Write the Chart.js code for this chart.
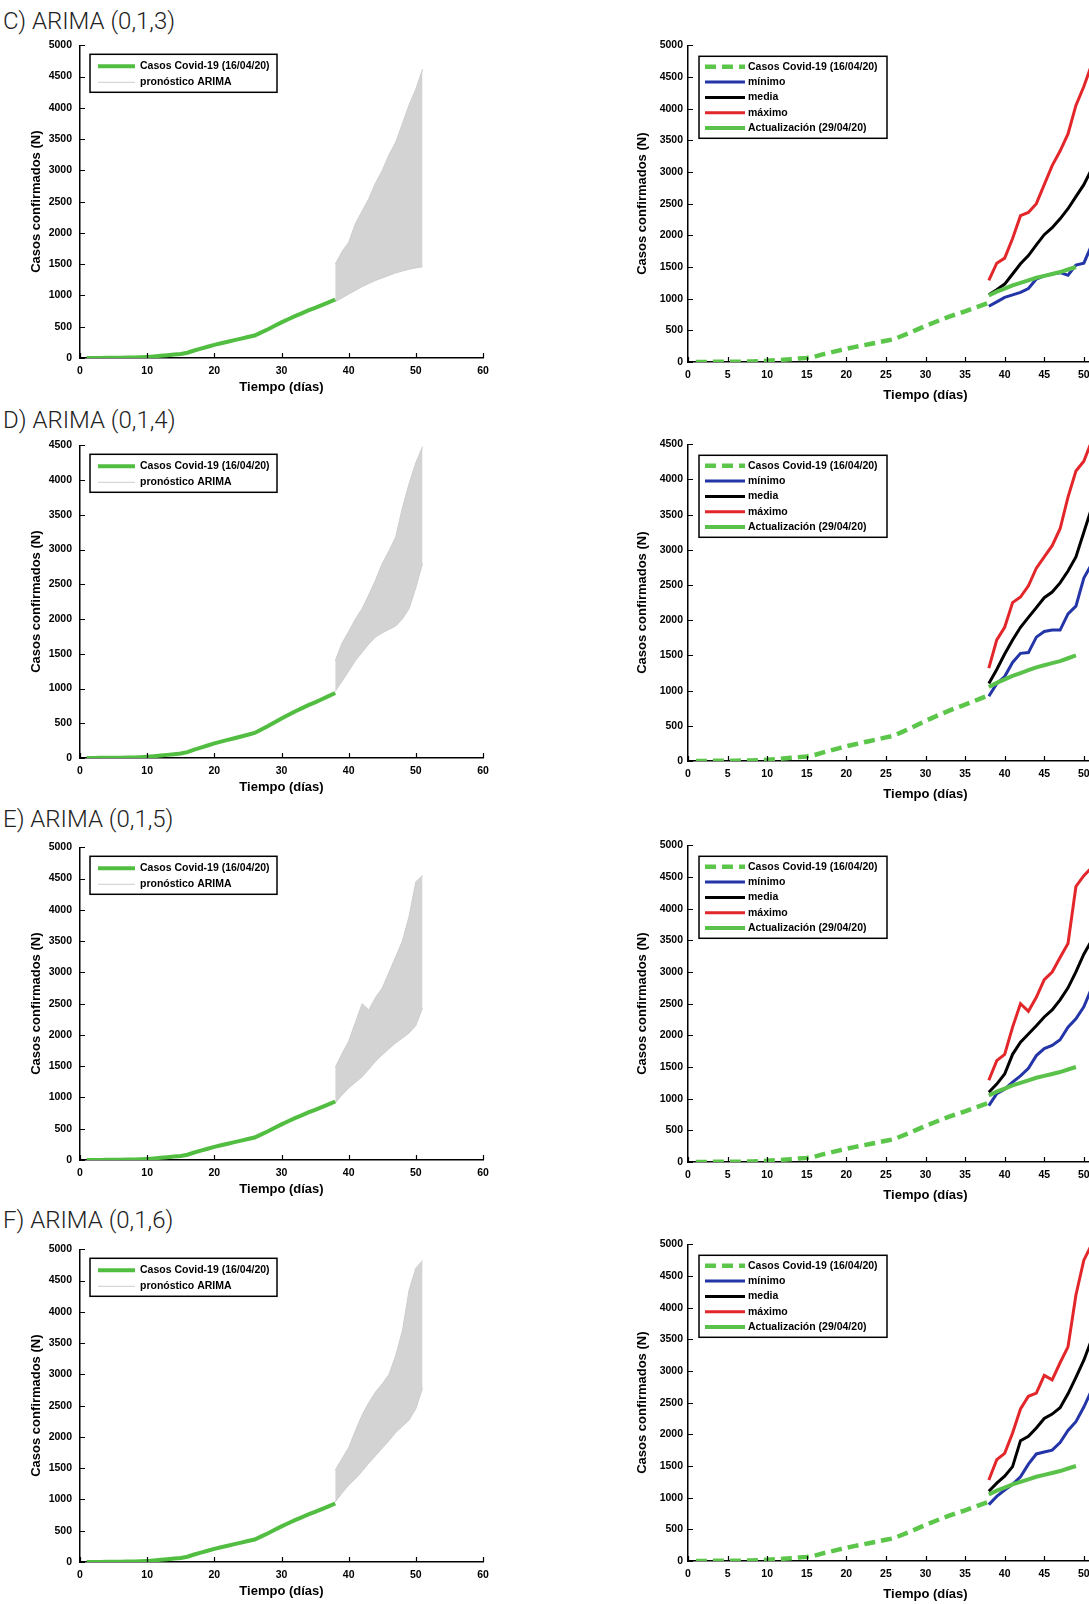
<!DOCTYPE html>
<html>
<head>
<meta charset="utf-8">
<script src="https://cdn.jsdelivr.net/npm/chart.js@4.4.1/dist/chart.umd.min.js"></script>
<style>
html, body { margin: 0; padding: 0; background: #fff; }
body { width: 1089px; height: 1604px; overflow: hidden; position: relative; }
.titulo { position: absolute; left: 3px; font-family: Roboto, "Open Sans", sans-serif; font-weight: 300;
          font-size: 24px; line-height: 26px; color: #222; white-space: nowrap; }
canvas { position: absolute; }
</style>
</head>
<body>
<script>
// ---- datos ----
var titulos = ['C) ARIMA (0,1,3)', 'D) ARIMA (0,1,4)', 'E) ARIMA (0,1,5)', 'F) ARIMA (0,1,6)'];
var yMaximos = [5000, 4500, 5000, 5000];

var diasCasos = [1, 2, 3, 4, 5, 6, 7, 8, 9, 10, 11, 12, 13, 14, 15, 16, 17, 18, 19, 20,
                 21, 22, 23, 24, 25, 26, 27, 28, 29, 30, 31, 32, 33, 34, 35, 36, 37, 38];
var casos = [1, 1, 2, 3, 4, 5, 6, 8, 12, 18, 26, 35, 45, 55, 65, 85, 120, 150, 180, 210,
             235, 260, 285, 310, 335, 360, 410, 460, 515, 570, 620, 670, 715, 760, 800, 845, 890, 935];

var diasActualizacion = [38, 39, 40, 41, 42, 43, 44, 45, 46, 47, 48, 49];
var actualizacion = [1050, 1110, 1160, 1210, 1250, 1290, 1330, 1360, 1390, 1420, 1460, 1500];

var diasPronostico = [38, 39, 40, 41, 42, 43, 44, 45, 46, 47, 48, 49, 50, 51];

// envolvente del abanico de pronosticos ARIMA (paneles izquierdos)
var abanicoSupC = [1500, 1700, 1850, 2150, 2350, 2550, 2800, 3000, 3250, 3450, 3750, 4050, 4300, 4620];
var abanicoInfC = [900, 960, 1020, 1080, 1140, 1190, 1240, 1280, 1320, 1360, 1390, 1420, 1440, 1460];
var abanicoSupD = [1400, 1650, 1820, 2000, 2150, 2350, 2560, 2800, 2980, 3180, 3600, 3950, 4250, 4480];
var abanicoInfD = [960, 1100, 1250, 1400, 1520, 1640, 1740, 1800, 1850, 1900, 2000, 2150, 2450, 2800];
var abanicoSupE = [1480, 1700, 1900, 2200, 2500, 2400, 2600, 2750, 3000, 3250, 3500, 3900, 4450, 4550];
var abanicoInfE = [910, 1040, 1150, 1240, 1330, 1450, 1580, 1680, 1780, 1870, 1950, 2030, 2150, 2430];
var abanicoSupF = [1470, 1650, 1830, 2100, 2350, 2550, 2720, 2850, 3000, 3300, 3700, 4350, 4700, 4820];
var abanicoInfF = [960, 1100, 1230, 1330, 1450, 1580, 1700, 1820, 1940, 2070, 2170, 2270, 2450, 2780];

// minimo / media / maximo (paneles derechos)
var minimoC = [880, 950, 1020, 1060, 1100, 1160, 1310, 1360, 1390, 1410, 1370, 1530, 1560, 1850];
var mediaC  = [1060, 1140, 1230, 1390, 1550, 1680, 1850, 2010, 2120, 2260, 2420, 2610, 2800, 3050];
var maximoC = [1290, 1560, 1640, 1950, 2310, 2360, 2500, 2800, 3100, 3330, 3600, 4050, 4350, 4700];

var minimoD = [920, 1100, 1200, 1400, 1530, 1540, 1760, 1840, 1860, 1860, 2090, 2200, 2600, 2800];
var mediaD  = [1100, 1300, 1520, 1720, 1900, 2040, 2180, 2320, 2400, 2530, 2700, 2900, 3250, 3600];
var maximoD = [1320, 1720, 1900, 2250, 2330, 2490, 2740, 2900, 3060, 3300, 3750, 4120, 4260, 4550];

var minimoE = [890, 1080, 1150, 1260, 1360, 1480, 1680, 1790, 1840, 1930, 2130, 2260, 2450, 2750];
var mediaE  = [1100, 1230, 1390, 1700, 1890, 2020, 2150, 2290, 2400, 2560, 2750, 3000, 3280, 3500];
var maximoE = [1290, 1600, 1700, 2130, 2500, 2380, 2600, 2880, 3000, 3230, 3450, 4350, 4520, 4650];

var minimoF = [890, 1020, 1120, 1210, 1330, 1530, 1690, 1720, 1750, 1870, 2060, 2200, 2430, 2700];
var mediaF  = [1100, 1230, 1340, 1490, 1900, 1970, 2100, 2250, 2320, 2420, 2640, 2900, 3170, 3500];
var maximoF = [1280, 1600, 1700, 2020, 2400, 2600, 2650, 2930, 2860, 3130, 3380, 4200, 4750, 5000];

var abanicos = [[abanicoSupC, abanicoInfC], [abanicoSupD, abanicoInfD], [abanicoSupE, abanicoInfE], [abanicoSupF, abanicoInfF]];
var escenarios = [[minimoC, mediaC, maximoC], [minimoD, mediaD, maximoD], [minimoE, mediaE, maximoE], [minimoF, mediaF, maximoF]];

// ---- maquetacion ----
var filaIzq = [41, 441, 843, 1245];
var filaDer = [44, 443, 844, 1243];
var fuente = '"Liberation Sans", Arial, sans-serif';
var verde = '#52be41';

function puntos(xs, ys) {
    return xs.map(function(x, i) { return { x: x, y: ys[i] }; });
}

// marcas de los ejes hacia dentro, como en MATLAB
var marcasDentro = {
    id: 'marcasDentro',
    afterDraw: function(chart) {
        var ctx = chart.ctx, xs = chart.scales.x, ys = chart.scales.y;
        ctx.save();
        ctx.strokeStyle = '#000';
        ctx.lineWidth = 1.2;
        ctx.beginPath();
        ys.ticks.forEach(function(t) {
            var py = Math.round(ys.getPixelForValue(t.value)) + 0.5;
            ctx.moveTo(xs.left, py);
            ctx.lineTo(xs.left + 5, py);
        });
        xs.ticks.forEach(function(t) {
            var px = Math.round(xs.getPixelForValue(t.value)) + 0.5;
            ctx.moveTo(px, ys.bottom);
            ctx.lineTo(px, ys.bottom - 5);
        });
        ctx.stroke();
        ctx.restore();
    }
};

var leyendaInterna = {
    id: 'leyendaInterna',
    afterDraw: function(chart, args, o) {
        var a = chart.chartArea, ctx = chart.ctx;
        var x = a.left + o.dx, y = a.top + o.dy;
        ctx.save();
        ctx.fillStyle = '#fff';
        ctx.fillRect(x, y, o.w, o.h);
        ctx.strokeStyle = '#000';
        ctx.lineWidth = 1.5;
        ctx.strokeRect(x, y, o.w, o.h);
        ctx.font = 'bold 10.5px ' + fuente;
        ctx.textBaseline = 'middle';
        var fila = 0;
        chart.data.datasets.forEach(function(ds) {
            if (!ds.enLeyenda) return;
            var ly = y + o.y0 + fila * o.paso;
            ctx.beginPath();
            ctx.strokeStyle = ds.borderColor;
            ctx.lineWidth = ds.borderWidth;
            ctx.setLineDash(ds.borderDash || []);
            ctx.moveTo(x + o.l0, ly);
            ctx.lineTo(x + o.l1, ly);
            ctx.stroke();
            ctx.setLineDash([]);
            ctx.fillStyle = '#000';
            ctx.fillText(ds.label, x + o.tx, ly);
            fila++;
        });
        ctx.restore();
    }
};

function sinSeparador(v) { return String(v); }

function ejes(yMax, pasoX, gapY, padTituloY, altoX) {
    var negrita = { family: fuente, weight: 'bold', size: 10.5 };
    var tituloFuente = { family: fuente, weight: 'bold', size: 13 };
    return {
        x: {
            type: 'linear', min: 0, max: 60,
            ticks: { stepSize: pasoX, autoSkip: false, maxRotation: 0, padding: 7, color: '#000', font: negrita,
                     callback: sinSeparador },
            grid: { drawOnChartArea: false, drawTicks: false },
            border: { color: '#000', width: 1.5 },
            title: { display: true, text: 'Tiempo (días)', color: '#000', padding: { top: 0, bottom: 3 },
                     font: tituloFuente },
            afterFit: function(s) { s.height = altoX; }
        },
        y: {
            type: 'linear', min: 0, max: yMax,
            ticks: { stepSize: 500, autoSkip: false, padding: gapY, color: '#000', font: negrita,
                     callback: sinSeparador },
            grid: { drawOnChartArea: false, drawTicks: false },
            border: { color: '#000', width: 1.5 },
            title: { display: true, text: 'Casos confirmados (N)', color: '#000', padding: { top: padTituloY, bottom: 0 },
                     font: tituloFuente },
            afterFit: function(s) { s.width = 60; }
        }
    };
}

function lienzo(left, top, w, h) {
    var c = document.createElement('canvas');
    c.width = w; c.height = h;
    c.style.left = left + 'px'; c.style.top = top + 'px';
    c.style.width = w + 'px'; c.style.height = h + 'px';
    document.body.appendChild(c);
    return c.getContext('2d');
}

titulos.forEach(function(texto, i) {
    var t = document.createElement('div');
    t.className = 'titulo';
    t.style.top = [8, 407, 806, 1207][i] + 'px';
    t.textContent = texto;
    document.body.appendChild(t);

    // panel izquierdo: datos + abanico ARIMA
    new Chart(lienzo(20, filaIzq[i] - 10, 483, 367), {
        type: 'line',
        data: {
            datasets: [
                { label: 'Casos Covid-19 (16/04/20)', data: puntos(diasCasos, casos), borderColor: verde,
                  borderWidth: 4, enLeyenda: true },
                { label: 'pronóstico ARIMA', data: puntos(diasPronostico, abanicos[i][0]), borderColor: '#cdcdcd',
                  borderWidth: 1, enLeyenda: true, order: 1 },
                { label: 'envolvente', data: puntos(diasPronostico, abanicos[i][1]), borderColor: '#cdcdcd',
                  borderWidth: 1, fill: '-1', backgroundColor: '#d3d3d3', order: 1 }
            ]
        },
        options: {
            responsive: false, animation: false,
            layout: { padding: { top: 10, right: 20, left: 0, bottom: 0 } },
            elements: { point: { radius: 0 }, line: { tension: 0 } },
            plugins: { legend: { display: false }, tooltip: { enabled: false },
                       leyendaInterna: { dx: 10, dy: 9, w: 187, h: 38, l0: 8, l1: 45, tx: 50, y0: 12, paso: 16 } },
            scales: ejes(yMaximos[i], 10, 8, 9, 40)
        },
        plugins: [marcasDentro, leyendaInterna]
    });

    // panel derecho: minimo / media / maximo y actualizacion
    new Chart(lienzo(628, filaDer[i] - 10, 555, 372), {
        type: 'line',
        data: {
            datasets: [
                { label: 'Casos Covid-19 (16/04/20)', data: puntos(diasCasos, casos), borderColor: '#5cc64b',
                  borderWidth: 4.5, borderDash: [11, 6], enLeyenda: true },
                { label: 'mínimo', data: puntos(diasPronostico, escenarios[i][0]), borderColor: '#2435a8',
                  borderWidth: 3, enLeyenda: true },
                { label: 'media', data: puntos(diasPronostico, escenarios[i][1]), borderColor: '#000',
                  borderWidth: 3, enLeyenda: true },
                { label: 'máximo', data: puntos(diasPronostico, escenarios[i][2]), borderColor: '#e3262a',
                  borderWidth: 3, enLeyenda: true },
                { label: 'Actualización (29/04/20)', data: puntos(diasActualizacion, actualizacion), borderColor: '#5ac24a',
                  borderWidth: 4, enLeyenda: true, order: -1 }
            ]
        },
        options: {
            responsive: false, animation: false,
            layout: { padding: { top: 10, right: 20, left: 0, bottom: 0 } },
            elements: { point: { radius: 0 }, line: { tension: 0 } },
            plugins: { legend: { display: false }, tooltip: { enabled: false },
                       leyendaInterna: { dx: 11, dy: 11, w: 188, h: 82, l0: 6, l1: 46, tx: 49, y0: 10.5, paso: 15.3 } },
            scales: ejes(yMaximos[i], 5, 5, 7, 44)
        },
        plugins: [marcasDentro, leyendaInterna]
    });
});
</script>
</body>
</html>
